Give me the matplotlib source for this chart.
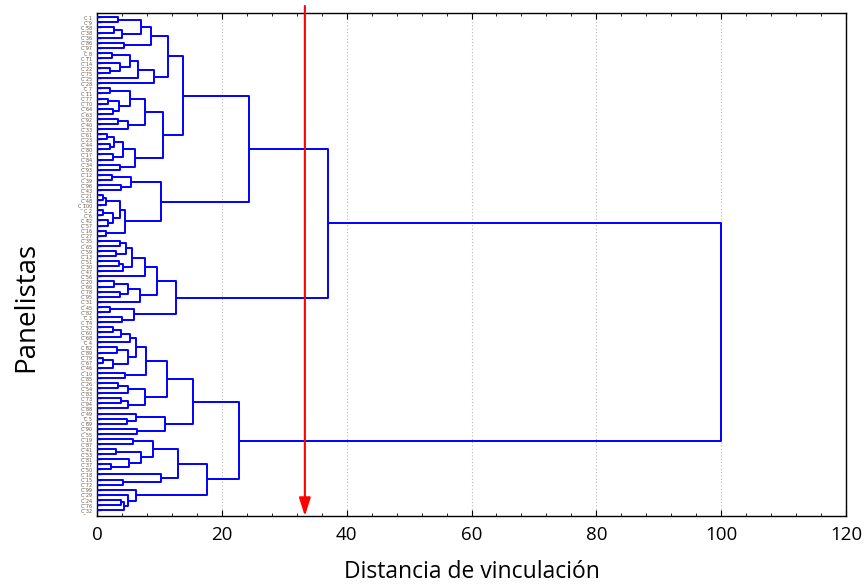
import matplotlib
matplotlib.use("Agg")
import matplotlib.pyplot as plt
from matplotlib.ticker import MultipleLocator

plt.rcParams['font.family'] = ['Open Sans', 'DejaVu Sans']

# ---- tree data: node = [linkage distance, left, right], leaf = 0 ----
P1a = [7.0, [3.3, 0, 0], [4.0, [2.8, 0, 0], 0]]
P1 = [8.6, P1a, [4.3, 0, 0]]
P2u = [6.6, [5.3, [2.4, 0, 0], [3.7, 0, [2.0, 0, 0]]], 0]
P2 = [9.2, P2u, 0]
P = [11.3, P1, P2]

Qa = [5.3, [2.1, 0, 0], [3.5, [1.8, 0, 0], [2.6, 0, 0]]]
Qb = [5.0, [3.4, 0, 0], 0]
Qu = [7.7, Qa, Qb]
Ql = [6.1, [4.2, [2.7, [1.6, 0, 0], [2.0, 0, 0]], [2.5, 0, 0]], [3.7, 0, 0]]
Q = [10.6, Qu, Ql]
A1a = [13.8, P, Q]

A1b_u = [5.4, [2.4, 0, 0], [3.8, 0, 0]]
A1b_l = [4.5, [3.7, [1.5, [0.9, 0, 0], 0], [2.5, [1.0, 0, 0], [1.8, 0, 0]]], [1.5, 0, 0]]
A1b = [10.3, A1b_u, A1b_l]
A1 = [24.4, A1a, A1b]

A2_c1 = [7.7, [5.6, [4.7, [3.7, 0, 0], [3.0, 0, 0]], [4.2, [3.5, 0, 0], 0]], 0]
A2_c2 = [6.9, [5.0, [2.7, 0, 0], [3.7, 0, 0]], 0]
A2u = [9.6, A2_c1, A2_c2]
A2l = [5.9, [2.0, 0, 0], [4.0, 0, 0]]
A2 = [12.7, A2u, A2l]
A = [37.0, A1, A2]

U1a = [6.3, [5.3, [3.9, [2.5, 0, 0], 0], 0], [4.9, [3.2, 0, 0], [2.5, [1.0, 0, 0], 0]]]
U1 = [7.8, U1a, [4.5, 0, 0]]
U2 = [7.7, [4.9, [3.3, 0, 0], 0], [5.0, [3.8, 0, 0], 0]]
B1u = [11.2, U1, U2]
B1l = [10.9, [6.2, 0, [4.8, 0, 0]], [6.4, 0, 0]]
B1 = [15.4, B1u, B1l]

B2u = [13.0, [9.0, [5.7, 0, 0], [7.1, [3.0, 0, 0], [5.2, 0, [2.2, 0, 0]]]],
       [10.3, 0, [4.2, 0, 0]]]
B2l = [6.2, 0, [5.0, 0, [4.3, [3.8, 0, 0], 0]]]
B2 = [17.6, B2u, B2l]
B = [22.8, B1, B2]

root = [100.0, A, B]

leaf_ids = [1, 9, 58, 38, 36, 86, 97, 8, 71, 14,
            22, 75, 25, 28, 7, 11, 77, 70, 64, 63,
            92, 40, 33, 61, 23, 44, 80, 17, 84, 34,
            93, 12, 39, 96, 43, 21, 48, 100, 2, 6,
            42, 57, 16, 27, 35, 65, 59, 13, 51, 30,
            47, 56, 20, 66, 78, 95, 31, 45, 82, 3,
            74, 52, 60, 68, 4, 62, 89, 79, 67, 46,
            10, 85, 26, 54, 83, 73, 94, 88, 49, 5,
            69, 90, 55, 19, 87, 41, 53, 81, 37, 50,
            18, 15, 72, 99, 29, 24, 76, 32]
leaf_labels = [f"C_{n}" for n in leaf_ids]

cut_distance = 33.3
x_ticks = [0, 20, 40, 60, 80, 100, 120]

# ---- figure ----
fig = plt.figure(figsize=(8.67, 5.88), dpi=100)
ax = fig.add_axes([0.1119, 0.1224, 0.8639, 0.855])

LINE = '#0000ff'
counter = [0]
segs = []


def walk(node):
    if node == 0:
        pos = counter[0]
        counter[0] += 1
        return pos, 0.0
    h, left, right = node
    y1, h1 = walk(left)
    y2, h2 = walk(right)
    segs.append(([h1, h, h, h2], [y1, y1, y2, y2]))
    return (y1 + y2) / 2.0, h


ry, rh = walk(root)
n_leaves = counter[0]
for xs, ys in segs:
    ax.plot(xs, ys, color=LINE, lw=1.4, solid_capstyle='butt', zorder=3)

ax.set_xlim(0, 120)
ax.set_ylim(n_leaves - 1 + 1.18, -0.79)
ax.set_xticks(x_ticks)
ax.xaxis.set_minor_locator(MultipleLocator(4))
ax.tick_params(axis='x', which='both', direction='in', top=True, bottom=True)
ax.tick_params(axis='x', which='major', length=4, labelsize=13.5, pad=7)
ax.tick_params(axis='x', which='minor', length=2.5)
ax.set_yticks(range(n_leaves))
ax.set_yticklabels(leaf_labels, fontsize=3.5, color='#6b5a4a',
                   family=['DejaVu Sans'])
ax.tick_params(axis='y', direction='in', length=3, width=1.0, pad=3)
ax.grid(axis='x', which='major', linestyle=(0, (1, 2)), color='#b8b8b8', lw=0.8, zorder=0)
for s in ax.spines.values():
    s.set_linewidth(1.0)

ax.set_xlabel('Distancia de vinculación', fontsize=16.5)
ax.xaxis.set_label_coords(0.5, -0.088)
ax.set_ylabel('Panelistas', fontsize=20)
ax.yaxis.set_label_coords(-0.076, 0.415)

ax.annotate('', xy=(cut_distance, 0.0), xycoords=('data', 'axes fraction'),
            xytext=(cut_distance, 1.0145), textcoords=('data', 'axes fraction'),
            arrowprops=dict(arrowstyle='-|>,head_length=1.1,head_width=0.35',
                            color='#ff0000', lw=1.5, mutation_scale=10,
                            shrinkA=0, shrinkB=0),
            annotation_clip=False, zorder=5)

fig.savefig('out.png', dpi=100)
